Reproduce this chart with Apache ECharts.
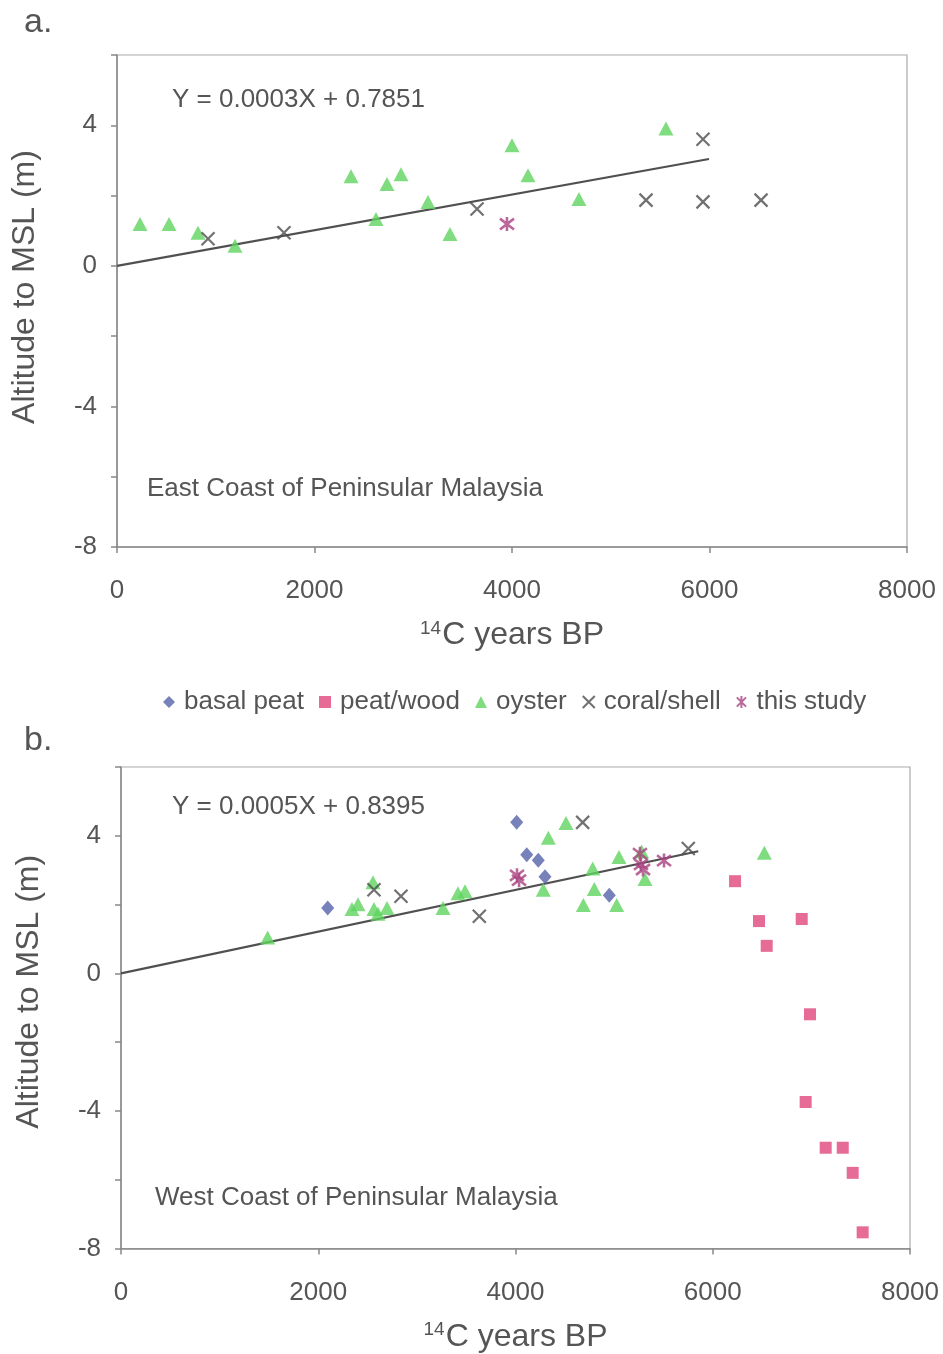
<!DOCTYPE html>
<html>
<head>
<meta charset="utf-8">
<script src="https://cdn.jsdelivr.net/npm/echarts@6/dist/echarts.min.js"></script>
<style>
html,body{margin:0;padding:0;background:#fff;}
#chart{width:943px;height:1354px;}
</style>
</head>
<body>
<div id="chart"></div>
<script>
// ---- data (x = 14C years BP, y = altitude to MSL in m) ----
const xTicks = [0, 2000, 4000, 6000, 8000];
const yLabelTicks = [-8, -4, 0, 4];
const categories = ['basal peat', 'peat/wood', 'oyster', 'coral/shell', 'this study'];

const eastOyster = [[233,1.19],[527,1.19],[820,0.94],[1195,0.57],[2370,2.55],[2623,1.33],[2734,2.33],[2876,2.61],[3149,1.82],[3372,0.91],[4000,3.43],[4162,2.58],[4678,1.90],[5559,3.91]];
const eastCoral = [[922,0.77],[1691,0.94],[3646,1.62],[5357,1.87],[5934,3.60],[5934,1.82],[6522,1.87]];
const eastThisStudy = [[3949,1.19]];
const eastTrend = [[0,0],[5995,3.04]];

const westBasalPeat = [[2096,1.90],[4012,4.39],[4114,3.45],[4231,3.29],[4299,2.81],[4951,2.27]];
const westPeatWood = [[6226,2.68],[6469,1.52],[6547,0.80],[6902,1.58],[6986,-1.19],[6942,-3.74],[7145,-5.07],[7318,-5.07],[7419,-5.80],[7520,-7.53]];
const westOyster = [[1487,1.04],[2342,1.87],[2403,2.01],[2555,2.65],[2565,1.87],[2606,1.73],[2697,1.90],[3265,1.90],[3417,2.33],[3488,2.39],[4282,2.43],[4333,3.94],[4512,4.37],[4688,1.99],[4783,3.05],[4799,2.45],[5026,1.99],[5049,3.38],[5279,3.54],[5313,2.74],[6523,3.51]];
const westCoral = [[2565,2.43],[2839,2.24],[3633,1.66],[4681,4.39],[5752,3.63]];
const westThisStudy = [[4015,2.85],[4036,2.71],[5262,3.48],[5272,3.17],[5293,3.02],[5506,3.28]];
const westTrend = [[0,0],[5853,3.55]];

const eqEast = 'Y = 0.0003X + 0.7851';
const eqWest = 'Y = 0.0005X + 0.8395';
const titleEast = 'East Coast of Peninsular Malaysia';
const titleWest = 'West Coast of Peninsular Malaysia';

// ---- styling ----
const FONT = "'Liberation Sans', Arial, sans-serif";
const TXT = '#555';
const AX = '#888';
const crossPath = 'path://M0,0L10,10M10,0L0,10';
const starPath = 'path://M0,0L10,10M10,0L0,10M5,-1.5L5,11.5';

const styles = {
  'basal peat': {symbol: 'diamond', symbolSize: [13, 15], itemStyle: {color: '#5561a9'}},
  'peat/wood': {symbol: 'rect', symbolSize: 12, itemStyle: {color: '#e0467c'}},
  'oyster': {symbol: 'triangle', symbolSize: [15, 14], itemStyle: {color: '#5fd35f'}},
  'coral/shell': {symbol: crossPath, symbolSize: 13, itemStyle: {color: '#4d4d4d', borderColor: '#4d4d4d', borderWidth: 2.2}},
  'this study': {symbol: starPath, symbolSize: 14, itemStyle: {color: '#a9427f', borderColor: '#a9427f', borderWidth: 2.6}}
};

function scatter(name, data, idx) {
  return Object.assign({
    type: 'scatter', name: name, data: data,
    xAxisIndex: idx, yAxisIndex: idx,
    emphasis: {disabled: true}, z: 3
  }, JSON.parse(JSON.stringify(styles[name])));
}
function trend(data, idx) {
  return {
    type: 'line', data: data, xAxisIndex: idx, yAxisIndex: idx,
    symbol: 'none', lineStyle: {color: '#505050', width: 2.2}, z: 2, silent: true
  };
}

function xAxis(idx) {
  return {
    type: 'value', gridIndex: idx, min: 0, max: 8000, interval: 2000,
    splitLine: {show: false},
    axisLine: {onZero: false, lineStyle: {color: AX, width: 1.5}},
    axisTick: {length: 6, lineStyle: {color: AX, width: 1.5}},
    axisLabel: {color: TXT, fontSize: 26, fontFamily: FONT, margin: 31,
      formatter: v => xTicks.includes(v) ? String(v) : ''},
    name: '{sup|14}C years BP', nameLocation: 'middle', nameGap: 72,
    nameTextStyle: {color: TXT, fontSize: 32, fontFamily: FONT,
      rich: {sup: {fontSize: 19, fontFamily: FONT, color: TXT, padding: [0, 1, 14, 0]}}}
  };
}
function yAxis(idx, shift) {
  return {
    type: 'value', gridIndex: idx, min: -8, max: 6, interval: 2,
    splitLine: {show: false},
    axisLine: {onZero: false, lineStyle: {color: AX, width: 1.5}},
    axisTick: {length: 6, lineStyle: {color: AX, width: 1.5}},
    axisLabel: {color: TXT, fontSize: 26, fontFamily: FONT, margin: 20,
      formatter: v => yLabelTicks.includes(v) ? String(v) : ''},
    name: 'Altitude to MSL (m)', nameLocation: 'middle', nameGap: 76,
    nameTextStyle: {color: TXT, fontSize: 32, fontFamily: FONT, padding: [0, 0, 0, shift]}
  };
}

const chart = echarts.init(document.getElementById('chart'), null, {renderer: 'canvas'});
const option = {
  backgroundColor: '#fff',
  animation: false,
  grid: [
    {left: 117, top: 55, width: 790, height: 492, show: true, borderColor: '#aaa', borderWidth: 1.2, backgroundColor: 'transparent'},
    {left: 121, top: 767, width: 789, height: 489, show: true, borderColor: '#aaa', borderWidth: 1.2, backgroundColor: 'transparent'}
  ],
  xAxis: [xAxis(0), xAxis(1)],
  yAxis: [yAxis(0, 28), yAxis(1, 32)],
  legend: {
    data: categories,
    top: 684, left: 158,
    itemWidth: 12, itemHeight: 12, itemGap: 15,
    textStyle: {color: TXT, fontSize: 26, fontFamily: FONT, padding: [0, 0, 0, 4]},
    selectedMode: false
  },
  graphic: [
    {type: 'text', left: 24, top: 6, style: {text: 'a.', fill: TXT, font: '34px ' + FONT}},
    {type: 'text', left: 24, top: 724, style: {text: 'b.', fill: TXT, font: '34px ' + FONT}},
    {type: 'text', left: 172, top: 87, style: {text: eqEast, fill: TXT, font: '26px ' + FONT}},
    {type: 'text', left: 147, top: 476, style: {text: titleEast, fill: TXT, font: '26px ' + FONT}},
    {type: 'text', left: 172, top: 794, style: {text: eqWest, fill: TXT, font: '26px ' + FONT}},
    {type: 'text', left: 155, top: 1185, style: {text: titleWest, fill: TXT, font: '26px ' + FONT}}
  ],
  series: [
    trend(eastTrend, 0),
    scatter('oyster', eastOyster, 0),
    scatter('coral/shell', eastCoral, 0),
    scatter('this study', eastThisStudy, 0),
    trend(westTrend, 1),
    scatter('basal peat', westBasalPeat, 1),
    scatter('peat/wood', westPeatWood, 1),
    scatter('oyster', westOyster, 1),
    scatter('coral/shell', westCoral, 1),
    scatter('this study', westThisStudy, 1)
  ]
};
chart.setOption(option);
</script>
</body>
</html>
